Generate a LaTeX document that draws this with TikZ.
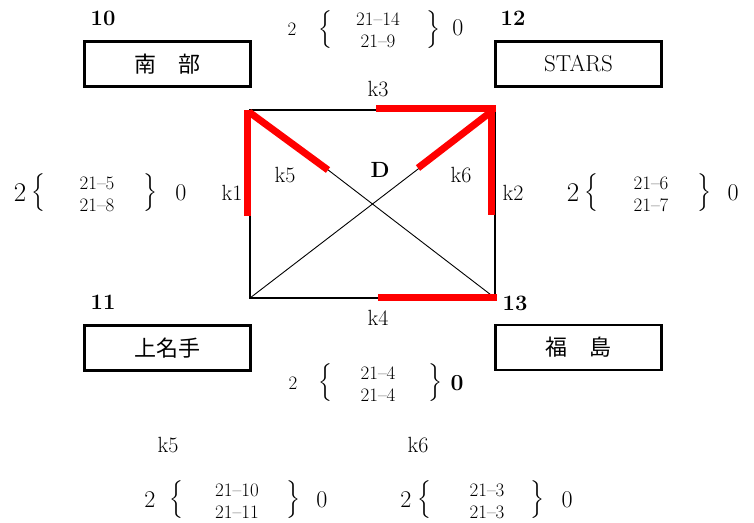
\documentclass[tikz,border=0pt]{standalone}
\usepackage{fontspec}
\newfontfamily\cjk{Noto Sans CJK JP}
\begin{document}
\begin{tikzpicture}[x=1pt,y=-1pt,
  lbl/.style={font=\fontsize{22}{22}\selectfont, inner sep=0pt},
  num/.style={font=\bfseries\fontsize{22}{22}\selectfont, inner sep=0pt},
  pair/.style={font=\fontsize{19}{22}\selectfont, align=center, inner sep=0pt},
  sml/.style={font=\fontsize{19}{19}\selectfont, inner sep=0pt},
  big/.style={font=\fontsize{24}{24}\selectfont, inner sep=0pt},
  brc/.style={inner sep=0pt, scale=2.1},
  team/.style={draw, line width=2.8pt, minimum width=166pt, minimum height=45pt, inner sep=0pt, font=\cjk\fontsize{22}{22}\selectfont},
  edge/.style={line width=2.6pt},
  diag/.style={line width=0.9pt},
  hot/.style={red, line width=7pt}]
\useasboundingbox (0,0) rectangle (754,522);
% teams
\node[team] (nanbu) at (167.5,64) {南\hspace{1em}部};
\node[team] (stars) at (578.5,64) {\rmfamily\fontsize{23}{23}\selectfont STARS};
\node[team] (kami) at (167.5,348) {上名手};
\node[team] (fuku) at (578.5,347.5) {福\hspace{1em}島};
\node[num] (n10) at (103,18) {10};
\node[num] (n12) at (513,18) {12};
\node[num] (n11) at (103,302) {11};
\node[num] (n13) at (515,303) {13};
% square
\coordinate (TL) at (250,110);
\coordinate (TR) at (495,110);
\coordinate (BL) at (250,298);
\coordinate (BR) at (495,298);
\draw[diag] (TL) -- (BR);
\draw[diag] (BL) -- (TR);
\draw[edge] (TL) -- (TR) -- (BR) -- (BL) -- cycle;
% red highlighted segments
\coordinate (k1a) at (247,110);
\coordinate (k1b) at (247,216);
\coordinate (k3a) at (376,108);
\coordinate (k3b) at (496,108);
\coordinate (k2a) at (491,110);
\coordinate (k2b) at (491,215);
\coordinate (k4a) at (378,297);
\coordinate (k4b) at (497,297);
\coordinate (k5a) at (249,112);
\coordinate (k5b) at (328,170);
\coordinate (k6a) at (492,111);
\coordinate (k6b) at (418,168);
\draw[hot] (k1a) -- (k1b);
\draw[hot] (k3a) -- (k3b);
\draw[hot] (k2a) -- (k2b);
\draw[hot] (k4a) -- (k4b);
\draw[hot] (k5a) -- (k5b);
\draw[hot] (k6a) -- (k6b);
% edge labels
\node[lbl] (lk3) at (378,89) {k3};
\node[lbl] (lk4) at (378,318) {k4};
\node[lbl] (lk1) at (232,193) {k1};
\node[lbl] (lk2) at (513,193) {k2};
\node[lbl] (lk5) at (285,175) {k5};
\node[lbl] (lk6) at (461,175) {k6};
\node[lbl, font=\bfseries\fontsize{22}{22}\selectfont] (D) at (380,170) {D};
% top score (k3)
\node[sml] (t2) at (292,29) {2};
\node[brc] (tbl) at (325,30) {$\Big\{$};
\node[pair] (tp) at (378,30) {21--14\\21--9};
\node[brc] (tbr) at (433,30) {$\Big\}$};
\node[big] (t0) at (458,28) {0};
% left score (k1)
\node[big, font=\fontsize{27}{27}\selectfont] (l2) at (20,193) {2};
\node[brc] (lbl) at (38,193) {$\Big\{$};
\node[pair] (lp) at (97,194) {21--5\\21--8};
\node[brc] (lbr) at (150,193) {$\Big\}$};
\node[big] (l0) at (181,193) {0};
% right score (k2)
\node[big, font=\fontsize{27}{27}\selectfont] (r2) at (573,193) {2};
\node[brc] (rbl) at (591,193) {$\Big\{$};
\node[pair] (rp) at (651,194) {21--6\\21--7};
\node[brc] (rbr) at (704,193) {$\Big\}$};
\node[big] (r0) at (733,193) {0};
% bottom-middle score (k4)
\node[sml] (m2) at (293,383) {2};
\node[brc] (mbl) at (325,383) {$\Big\{$};
\node[pair] (mp) at (378,384) {21--4\\21--4};
\node[brc] (mbr) at (435,383) {$\Big\}$};
\node[big, font=\bfseries\fontsize{23}{23}\selectfont] (m0) at (457,383) {0};
% k5 score
\node[lbl] (bk5) at (168,445) {k5};
\node[big] (a2) at (150,500) {2};
\node[brc] (abl) at (176,500) {$\Big\{$};
\node[pair] (ap) at (237,501) {21--10\\21--11};
\node[brc] (abr) at (293,500) {$\Big\}$};
\node[big] (a0) at (322,500) {0};
% k6 score
\node[lbl] (bk6) at (418,445) {k6};
\node[big] (b2) at (406,500) {2};
\node[brc] (bbl) at (424,500) {$\Big\{$};
\node[pair] (bp) at (487,501) {21--3\\21--3};
\node[brc] (bbr) at (537,500) {$\Big\}$};
\node[big] (b0) at (567,500) {0};
\end{tikzpicture}
\end{document}
